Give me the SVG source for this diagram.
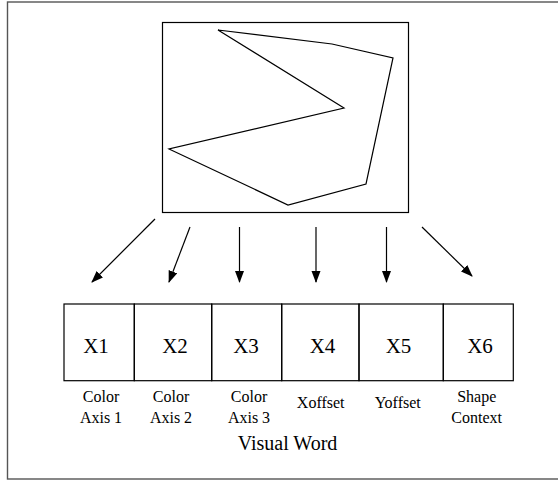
<svg xmlns="http://www.w3.org/2000/svg" width="558" height="484" viewBox="0 0 558 484">
<style>
.ln{fill:none;stroke:#000;stroke-width:1.2}
.t{font-family:"Liberation Serif",serif;fill:#000;text-anchor:middle}
.big{font-size:21px}
.sm{font-size:16px}
.vw{font-size:20px}
</style>
<defs>
<marker id="ah" markerWidth="12" markerHeight="10" refX="11" refY="4.5" orient="auto" markerUnits="userSpaceOnUse">
<path d="M0,0 L12,4.5 L0,9 Z" fill="#000"/>
</marker>
</defs>
<rect x="7.5" y="2" width="560" height="477" fill="#fff" stroke="#555" stroke-width="1.4"/>
<g id="shape">
<rect class="ln" x="162.5" y="22.5" width="246" height="190"/>
<polygon class="ln" points="218,30 332,44 393,58 366,184 288,205 169,149 344,108"/>
</g>
<g id="connectors">
<line class="ln" x1="155" y1="219" x2="92" y2="282" marker-end="url(#ah)"/>
<line class="ln" x1="190" y1="227" x2="169" y2="282" marker-end="url(#ah)"/>
<line class="ln" x1="239.5" y1="227" x2="239.5" y2="282" marker-end="url(#ah)"/>
<line class="ln" x1="316" y1="227" x2="316" y2="282" marker-end="url(#ah)"/>
<line class="ln" x1="386.5" y1="227" x2="386.5" y2="282" marker-end="url(#ah)"/>
<line class="ln" x1="422" y1="227" x2="472" y2="276" marker-end="url(#ah)"/>
</g>
<g id="x1"><rect class="ln" x="64" y="304" width="70.3" height="76.7"/><text class="t big" x="96" y="353">X1</text><text class="t sm" x="101" y="402">Color</text><text class="t sm" x="101" y="423">Axis 1</text></g>
<g id="x2"><rect class="ln" x="134.3" y="304" width="77.4" height="76.7"/><text class="t big" x="175" y="353">X2</text><text class="t sm" x="171" y="402">Color</text><text class="t sm" x="171" y="423">Axis 2</text></g>
<g id="x3"><rect class="ln" x="211.7" y="304" width="70" height="76.7"/><text class="t big" x="246" y="353">X3</text><text class="t sm" x="249" y="402">Color</text><text class="t sm" x="249" y="423">Axis 3</text></g>
<g id="x4"><rect class="ln" x="281.7" y="304" width="77.3" height="76.7"/><text class="t big" x="322.5" y="353">X4</text><text class="t sm" x="320.7" y="408">Xoffset</text></g>
<g id="x5"><rect class="ln" x="359" y="304" width="84.3" height="76.7"/><text class="t big" x="398.5" y="353">X5</text><text class="t sm" x="397.7" y="408">Yoffset</text></g>
<g id="x6"><rect class="ln" x="443.3" y="304" width="70" height="76.7"/><text class="t big" x="480" y="353">X6</text><text class="t sm" x="476.7" y="402">Shape</text><text class="t sm" x="476.7" y="423">Context</text></g>
<text class="t vw" x="287.5" y="450">Visual Word</text>
</svg>
